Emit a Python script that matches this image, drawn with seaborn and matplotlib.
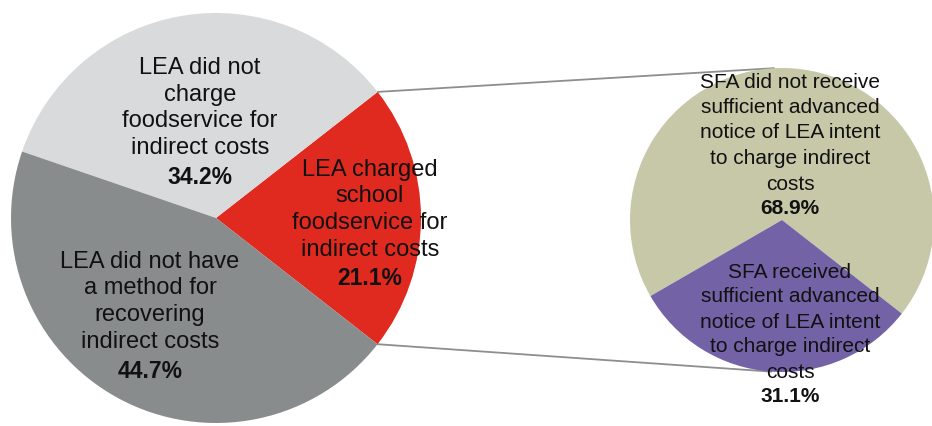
import matplotlib
matplotlib.use("Agg")
import matplotlib.pyplot as plt
import seaborn as sns
import numpy as np

# Share of LEAs by indirect-cost practice
main_labels = [
    "LEA charged\nschool\nfoodservice for\nindirect costs",
    "LEA did not\ncharge\nfoodservice for\nindirect costs",
    "LEA did not have\na method for\nrecovering\nindirect costs",
]
main_values = [21.1, 34.2, 44.7]

# Breakdown of the LEAs that charged foodservice
detail_labels = [
    "SFA did not receive\nsufficient advanced\nnotice of LEA intent\nto charge indirect\ncosts",
    "SFA received\nsufficient advanced\nnotice of LEA intent\nto charge indirect\ncosts",
]
detail_values = [68.9, 31.1]

sns.set_style("white")
plt.rcParams["font.family"] = ["Liberation Sans", "DejaVu Sans"]

main_colors = ["#e02a1f", "#d9dadb", "#898c8c"]
detail_colors = ["#c6c8a8", "#7462a6"]
text_color = "#111111"

fig = plt.figure(figsize=(9.32, 4.26), dpi=100)
ax = fig.add_axes([0, 0, 1, 1])

main_center, main_r = (216, 208), 205
detail_center, detail_r = (782, 206), 152
start = -38

main_wedges, _ = ax.pie(main_values, colors=main_colors, startangle=start,
                        center=main_center, radius=main_r, frame=True,
                        wedgeprops=dict(linewidth=0, zorder=2))
detail_wedges, _ = ax.pie(detail_values, colors=detail_colors, startangle=start,
                          center=detail_center, radius=detail_r, frame=True,
                          wedgeprops=dict(linewidth=0, zorder=2))

# Connectors from the charged slice to the breakdown pie
red = main_wedges[0]
def on_circle(center, r, deg):
    a = np.deg2rad(deg)
    return center[0] + r * np.cos(a), center[1] + r * np.sin(a)

p1 = on_circle(main_center, main_r, red.theta2)
p2 = on_circle(main_center, main_r, red.theta1)
q1 = on_circle(detail_center, detail_r, 93)
q2 = on_circle(detail_center, detail_r, 266)
for a, b in ((p1, q1), (p2, q2)):
    ax.plot([a[0], b[0]], [a[1], b[1]], color="#8e8e8e", lw=1.3, zorder=1,
            solid_capstyle="round")


def stacked(x, y_top, text, pct, size, pct_size, step, pct_gap):
    lines = text.split("\n")
    for i, line in enumerate(lines):
        ax.text(x, y_top - i * step, line, ha="center", va="center",
                fontsize=size, color=text_color, zorder=5)
    ax.text(x, y_top - (len(lines) - 1) * step - pct_gap, pct,
            ha="center", va="center", fontsize=pct_size, fontweight="bold",
            color=text_color, zorder=5)


pcts_main = [f"{v:.1f}%" for v in main_values]
pcts_detail = [f"{v:.1f}%" for v in detail_values]

stacked(370, 256, main_labels[0], pcts_main[0], 17, 16.5, 26.5, 29)
stacked(200, 358, main_labels[1], pcts_main[1], 17, 16.5, 26.5, 30)
stacked(150, 164, main_labels[2], pcts_main[2], 17, 16.5, 26.5, 30)
stacked(790, 344, detail_labels[0], pcts_detail[0], 15, 15, 25.5, 24)
stacked(790, 154, detail_labels[1], pcts_detail[1], 15, 15, 25, 25)

ax.set_xlim(0, 932)
ax.set_ylim(0, 426)
ax.set_aspect("equal")
ax.axis("off")

fig.savefig("out.png", dpi=100)
